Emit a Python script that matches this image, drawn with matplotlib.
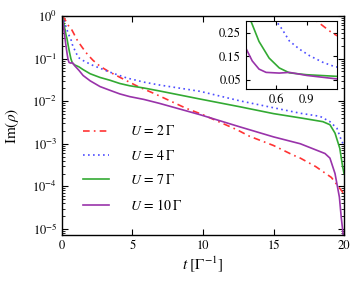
import matplotlib
matplotlib.use("Agg")
import matplotlib.pyplot as plt
from matplotlib.ticker import LogLocator, NullFormatter

plt.rcParams['font.family'] = ['STIXGeneral', 'DejaVu Serif']
plt.rcParams['mathtext.fontset'] = 'stix'

# ---- data ----
t_u2 = [0, 0.1, 0.2, 0.33, 0.5, 0.7, 0.85, 1.0, 1.15, 1.4, 1.8, 2.2, 2.7, 3.3, 4.2,
        5.4, 6.6, 8.8, 10.0, 11.2, 12.4, 13.3, 15.0, 16.4, 16.9, 18.0, 19.1, 19.8, 20.0]
v_u2 = [1.0, 0.93, 0.83, 0.71, 0.56, 0.47, 0.38, 0.30, 0.25, 0.19, 0.126, 0.091, 0.066,
        0.050, 0.035, 0.022, 0.0148, 0.0068, 0.0048, 0.0032, 0.00214, 0.0015, 0.00091,
        0.00054, 0.00046, 0.00029, 0.000162, 0.000081, 0.000066]

t_u4 = [0, 0.1, 0.2, 0.3, 0.4, 0.5, 0.6, 0.66, 0.73, 0.83, 0.93, 1.06, 1.18, 1.4, 1.63,
        2.2, 3.4, 4.6, 5.8, 6.9, 9.8, 12.6, 16.9, 18.3, 19.0, 19.5, 19.8, 20.0]
v_u4 = [1.0, 0.85, 0.68, 0.54, 0.43, 0.35, 0.30, 0.264, 0.215, 0.18, 0.152, 0.124, 0.105,
        0.094, 0.085, 0.069, 0.048, 0.035, 0.028, 0.024, 0.017, 0.0102, 0.0052, 0.0044,
        0.0033, 0.0023, 0.00123, 0.0009]

t_u7 = [0, 0.1, 0.2, 0.3, 0.35, 0.43, 0.53, 0.63, 0.73, 0.9, 1.2, 1.5, 2.0, 2.7, 3.4,
        4.1, 4.8, 5.8, 6.9, 9.8, 12.6, 15.0, 17.0, 18.5, 19.0, 19.36, 19.7, 19.9, 20.0]
v_u7 = [1.0, 0.75, 0.5, 0.34, 0.30, 0.213, 0.142, 0.10, 0.079, 0.071, 0.064, 0.055, 0.044,
        0.036, 0.031, 0.026, 0.023, 0.0204, 0.0174, 0.0112, 0.0074, 0.0051, 0.0040,
        0.0033, 0.0028, 0.00178, 0.00078, 0.00029, 0.0002]

t_u10 = [0, 0.05, 0.1, 0.15, 0.2, 0.25, 0.29, 0.363, 0.43, 0.5, 0.63, 0.73, 0.9, 1.2,
         1.5, 2.0, 2.7, 3.4, 4.1, 4.8, 5.8, 6.9, 9.8, 12.6, 15.0, 16.9, 18.65, 19.0,
         19.36, 19.67, 19.8, 19.93, 20.0]
v_u10 = [1.0, 0.8, 0.6, 0.45, 0.33, 0.24, 0.193, 0.13, 0.095, 0.081, 0.078, 0.081, 0.068,
         0.053, 0.040, 0.030, 0.022, 0.018, 0.0148, 0.0128, 0.011, 0.0089, 0.0048, 0.0025,
         0.00145, 0.0010, 0.00059, 0.00046, 0.0002, 0.000056, 0.000019, 0.0000079,
         0.000003]

labels = [r'$U\,=\,2\,\Gamma$', r'$U\,=\,4\,\Gamma$', r'$U\,=\,7\,\Gamma$', r'$U\,=\,10\,\Gamma$']
colors = ['#ff3333', '#4d4dff', '#33aa33', '#9933aa']

xticks_main = [0, 5, 10, 15, 20]
xticks_inset = [0.6, 0.9]
yticks_inset = [0.05, 0.15, 0.25]

series = [(t_u2, v_u2), (t_u4, v_u4), (t_u7, v_u7), (t_u10, v_u10)]
styles = [dict(dashes=(4, 2.5, 1, 2.5)), dict(dashes=(1, 2)), dict(linestyle='-'), dict(linestyle='-')]

fig = plt.figure(figsize=(3.61, 2.85), dpi=100)
ax = fig.add_axes([0.1717, 0.1754, 0.7813, 0.7685])
for (t, v), lab, c, st in zip(series, labels, colors, styles):
    ax.plot(t, v, color=c, lw=1.2, label=lab, **st)
ax.set_yscale('log')
ax.set_xlim(0, 20)
ax.set_ylim(7.2e-6, 1.0)
ax.set_xticks(xticks_main)
ax.yaxis.set_major_locator(LogLocator(base=10, numticks=10))
ax.yaxis.set_minor_locator(LogLocator(base=10, subs=range(2, 10), numticks=20))
ax.yaxis.set_minor_formatter(NullFormatter())
ax.tick_params(which='both', direction='in', top=True, right=True, labelsize=9)
ax.tick_params(which='major', length=4)
ax.tick_params(which='minor', length=2)
ax.set_xlabel(r'$t\ [\Gamma^{-1}]$', fontsize=11, labelpad=2)
ax.set_ylabel(r'$\mathrm{Im}(\rho)$', fontsize=11, labelpad=8)
for s in ax.spines.values():
    s.set_linewidth(1.0)
ax.legend(loc='upper left', bbox_to_anchor=(0.055, 0.53), borderaxespad=0, frameon=False,
          fontsize=10, handlelength=1.9, labelspacing=0.75, handletextpad=1.5)

ins = fig.add_axes([0.681, 0.6877, 0.2525, 0.2383])
for (t, v), c, st in zip(series, colors, styles):
    ins.plot(t, v, color=c, lw=1.2, **st)
ins.set_xlim(0.3, 1.2)
ins.set_ylim(0.01, 0.30)
ins.set_xticks(xticks_inset)
ins.set_yticks(yticks_inset)
ins.tick_params(direction='in', top=True, right=True, labelsize=9, length=3)

fig.savefig('out.png', dpi=100)
